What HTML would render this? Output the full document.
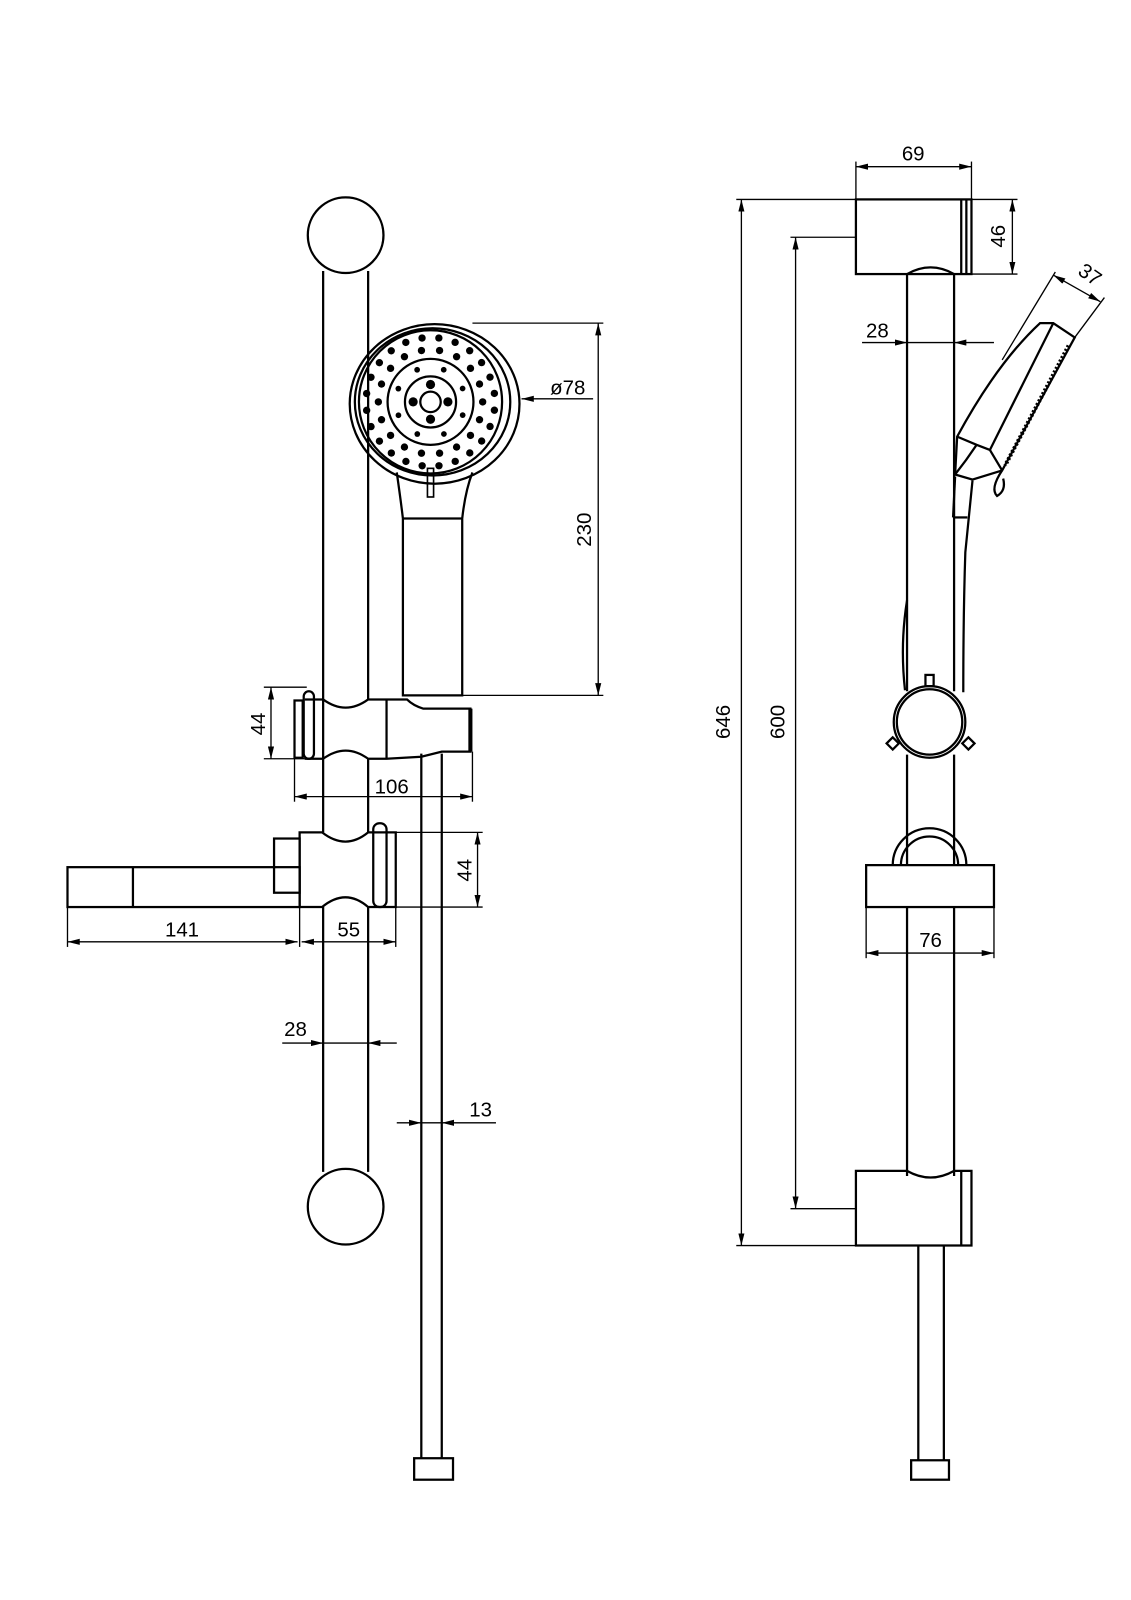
<!DOCTYPE html>
<html><head><meta charset="utf-8"><style>html,body{margin:0;padding:0;background:#fff}svg{display:block}text{font-family:"Liberation Sans",sans-serif;font-size:20px;fill:#000}</style></head>
<body>
<svg width="1131" height="1600" viewBox="0 0 1131 1600" xmlns="http://www.w3.org/2000/svg">
<defs>
<marker id="a" viewBox="0 0 12 6" refX="12" refY="3" markerWidth="12" markerHeight="6" orient="auto-start-reverse" markerUnits="userSpaceOnUse"><path d="M0,0L12,3L0,6z" fill="#000"/></marker>
</defs>
<g transform="scale(1.0226)">
<g fill="none" stroke="#000" stroke-width="2.2">
<!-- LEFT rail -->
<circle cx="338" cy="230" r="37"/>
<circle cx="338" cy="1180" r="37"/>
<line x1="316" y1="265" x2="316" y2="684"/><line x1="360" y1="265" x2="360" y2="684"/>
<line x1="316" y1="742" x2="316" y2="814"/><line x1="360" y1="742" x2="360" y2="814"/>
<line x1="316" y1="887" x2="316" y2="1146"/><line x1="360" y1="887" x2="360" y2="1146"/>
<!-- slider1 -->
<path d="M316,684 Q338,700 360,684 L378,684 L398,684 Q404,690 414,693 L460,693 L460,735 L432,735 L412,740 L378,742 L360,742 Q338,726 316,742 Z"/>
<line x1="378" y1="684" x2="378" y2="742"/>
<line x1="298" y1="684" x2="316" y2="684"/><line x1="298" y1="742" x2="316" y2="742"/>
<rect x="288" y="685" width="8" height="56"/>
<rect x="297" y="676" width="10" height="66" rx="5"/>
<line x1="460" y1="693" x2="460" y2="735" stroke-width="4"/>
<!-- hose -->
<line x1="412" y1="737" x2="412" y2="1426"/><line x1="432" y1="737" x2="432" y2="1426"/>
<rect x="405" y="1426" width="38" height="21"/>
<!-- handset -->
<path d="M388,462 Q392,490 394,507 L394,680 L452,680 L452,507 Q455,480 462,462"/>
<line x1="394" y1="507" x2="452" y2="507"/>
<ellipse cx="425" cy="395" rx="83" ry="78"/>
<ellipse cx="423" cy="393" rx="76" ry="72"/>
<circle cx="421" cy="393" r="70"/>
<circle cx="421" cy="393" r="42"/>
<circle cx="421" cy="393" r="25"/>
<circle cx="421" cy="393" r="10"/>
<rect x="418" y="458" width="6" height="28" stroke-width="1.6"/>
<!-- slider2 -->
<path d="M293,814 L315,814 Q338,832 360,814 L387,814 L387,887 L360,887 Q338,868 315,887 L293,887 Z"/>
<rect x="365" y="805" width="13" height="82" rx="6"/>
<rect x="66" y="848" width="227" height="39"/>
<line x1="130" y1="848" x2="130" y2="887"/>
<rect x="268" y="820" width="25" height="53"/>
<!-- RIGHT -->
<rect x="837" y="195" width="113" height="73"/>
<line x1="940" y1="195" x2="940" y2="268"/><line x1="945" y1="195" x2="945" y2="268"/>
<path d="M887,268 Q910,255 933,268"/>
<line x1="887" y1="268" x2="887" y2="676"/><line x1="933" y1="268" x2="933" y2="676"/>
<line x1="887" y1="738" x2="887" y2="846"/><line x1="933" y1="738" x2="933" y2="846"/>
<line x1="887" y1="887" x2="887" y2="1150"/><line x1="933" y1="887" x2="933" y2="1150"/>
<path d="M837,1145 L887,1145 Q910,1158 933,1145 L950,1145 L950,1218 L837,1218 Z"/>
<line x1="940" y1="1145" x2="940" y2="1218"/>
<line x1="898" y1="1218" x2="898" y2="1428"/><line x1="923" y1="1218" x2="923" y2="1428"/>
<rect x="891" y="1428" width="37" height="19"/>
<circle cx="909" cy="706" r="35"/><circle cx="909" cy="706" r="32"/>
<rect x="905" y="660" width="8" height="11"/>
<path d="M873,721 l-6,6 l6,6 l6,-6z"/><path d="M947,721 l6,6 l-6,6 l-6,-6z"/>
<path d="M873,846 A36,36 0 0 1 945,846"/><path d="M881,846 A28,28 0 0 1 937,846"/>
<rect x="847" y="846" width="125" height="41"/>
<!-- side handset -->
<path d="M1017,316 L1030,316 L1051,330 L980,460 L951,469 L934,464 L936,427 Q975,355 1017,316 Z"/>
<line x1="1030" y1="316" x2="968" y2="440"/>
<path d="M936,427 L955,435 L968,440 L980,460"/><path d="M955,435 Q945,450 934,464"/>
<path d="M980,460 Q968,478 975,485 Q984,480 981,468"/>
<line x1="1045" y1="338" x2="983" y2="455" stroke-dasharray="2,2" stroke-width="4"/>
<path d="M951,470 L944,540 Q942,600 942,677"/>
<path d="M934,466 L932,506"/>
<line x1="932" y1="506" x2="946" y2="506"/>
<path d="M887,587 Q880,630 885,675"/>
</g>
<!-- dims -->
<g fill="none" stroke="#000" stroke-width="1.3">
<line x1="462" y1="316" x2="590" y2="316"/><line x1="452" y1="680" x2="590" y2="680"/>
<line x1="585" y1="316" x2="585" y2="680" marker-start="url(#a)" marker-end="url(#a)"/>
<line x1="580" y1="390" x2="510" y2="390" marker-end="url(#a)"/>
<line x1="258" y1="672" x2="300" y2="672"/><line x1="258" y1="742" x2="300" y2="742"/>
<line x1="265" y1="672" x2="265" y2="742" marker-start="url(#a)" marker-end="url(#a)"/>
<line x1="288" y1="742" x2="288" y2="784"/><line x1="462" y1="735" x2="462" y2="784"/>
<line x1="288" y1="779" x2="462" y2="779" marker-start="url(#a)" marker-end="url(#a)"/>
<line x1="387" y1="814" x2="472" y2="814"/><line x1="387" y1="887" x2="472" y2="887"/>
<line x1="467" y1="814" x2="467" y2="887" marker-start="url(#a)" marker-end="url(#a)"/>
<line x1="66" y1="887" x2="66" y2="926"/><line x1="293" y1="887" x2="293" y2="926"/><line x1="387" y1="887" x2="387" y2="926"/>
<line x1="66" y1="921" x2="291" y2="921" marker-start="url(#a)" marker-end="url(#a)"/>
<line x1="295" y1="921" x2="387" y2="921" marker-start="url(#a)" marker-end="url(#a)"/>
<line x1="276" y1="1020" x2="316" y2="1020" marker-end="url(#a)"/><line x1="316" y1="1020" x2="360" y2="1020"/><line x1="388" y1="1020" x2="360" y2="1020" marker-end="url(#a)"/>
<line x1="388" y1="1098" x2="412" y2="1098" marker-end="url(#a)"/><line x1="412" y1="1098" x2="432" y2="1098"/><line x1="485" y1="1098" x2="432" y2="1098" marker-end="url(#a)"/>
<line x1="837" y1="158" x2="837" y2="195"/><line x1="950" y1="158" x2="950" y2="195"/>
<line x1="837" y1="163" x2="950" y2="163" marker-start="url(#a)" marker-end="url(#a)"/>
<line x1="950" y1="195" x2="995" y2="195"/><line x1="950" y1="268" x2="995" y2="268"/>
<line x1="990" y1="195" x2="990" y2="268" marker-start="url(#a)" marker-end="url(#a)"/>
<line x1="720" y1="195" x2="837" y2="195"/><line x1="720" y1="1218" x2="837" y2="1218"/>
<line x1="725" y1="195" x2="725" y2="1218" marker-start="url(#a)" marker-end="url(#a)"/>
<line x1="773" y1="232" x2="837" y2="232"/><line x1="773" y1="1182" x2="837" y2="1182"/>
<line x1="778" y1="232" x2="778" y2="1182" marker-start="url(#a)" marker-end="url(#a)"/>
<line x1="843" y1="335" x2="887" y2="335" marker-end="url(#a)"/><line x1="887" y1="335" x2="933" y2="335"/><line x1="972" y1="335" x2="933" y2="335" marker-end="url(#a)"/>
<line x1="847" y1="887" x2="847" y2="937"/><line x1="972" y1="887" x2="972" y2="937"/>
<line x1="847" y1="932" x2="972" y2="932" marker-start="url(#a)" marker-end="url(#a)"/>
<line x1="980" y1="352" x2="1032" y2="266"/><line x1="1051" y1="330" x2="1080" y2="291"/>
<line x1="1030" y1="269" x2="1076" y2="295" marker-start="url(#a)" marker-end="url(#a)"/>
</g>
<g id="dots" fill="#000"></g>
<text x="538" y="386">ø78</text>
<text transform="translate(578,518) rotate(-90)" text-anchor="middle">230</text>
<text transform="translate(259,708) rotate(-90)" text-anchor="middle">44</text>
<text x="383" y="776" text-anchor="middle">106</text>
<text transform="translate(461,851) rotate(-90)" text-anchor="middle">44</text>
<text x="178" y="916" text-anchor="middle">141</text>
<text x="341" y="916" text-anchor="middle">55</text>
<text x="289" y="1013" text-anchor="middle">28</text>
<text x="470" y="1092" text-anchor="middle">13</text>
<text x="893" y="157" text-anchor="middle">69</text>
<text transform="translate(983,231) rotate(-90)" text-anchor="middle">46</text>
<text transform="translate(714,706) rotate(-90)" text-anchor="middle">646</text>
<text transform="translate(767,706) rotate(-90)" text-anchor="middle">600</text>
<text x="858" y="330" text-anchor="middle">28</text>
<text x="910" y="926" text-anchor="middle">76</text>
<text transform="translate(1062,274) rotate(35)" text-anchor="middle">37</text>
</g>
</svg>
<script>
var g=document.getElementById('dots'),ns='http://www.w3.org/2000/svg';
function ring(r,n,rad,off){for(var i=0;i<n;i++){var t=2*Math.PI*i/n+(off||0);var c=document.createElementNS(ns,'circle');c.setAttribute('cx',421+r*Math.cos(t));c.setAttribute('cy',393+r*Math.sin(t));c.setAttribute('r',rad);g.appendChild(c);}}
ring(63,24,3.6,0.13);ring(51,18,3.6,0);ring(34,8,2.8,0.39);ring(17,4,4.5,0);
</script>
</body></html>
